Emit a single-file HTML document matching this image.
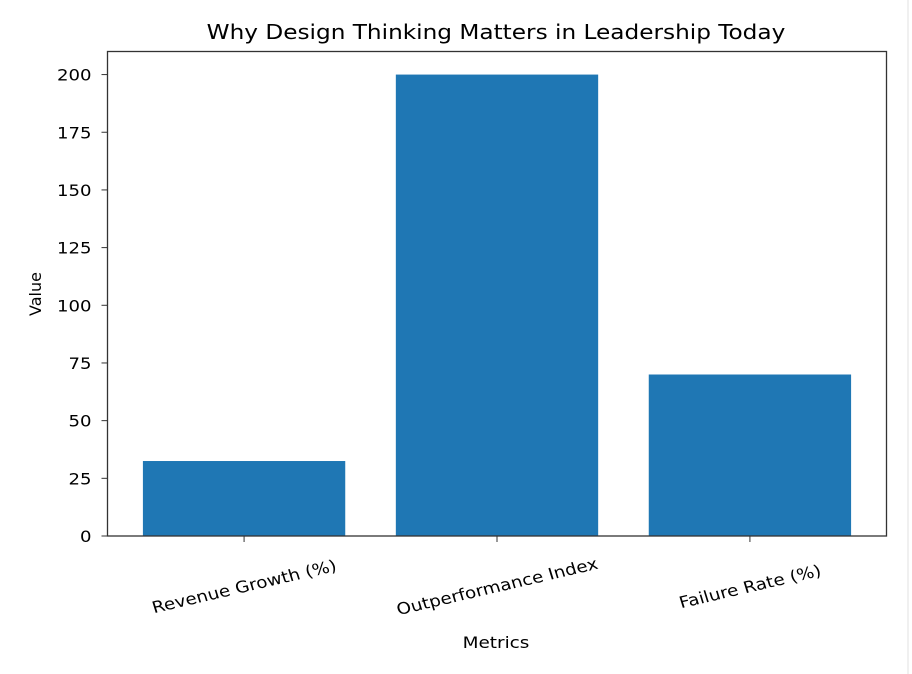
<!DOCTYPE html>
<html><head><meta charset="utf-8"><style>
html,body{margin:0;padding:0;background:#fff;}
svg{display:block;font-family:"DejaVu Sans","Liberation Sans",sans-serif;}
</style></head><body>
<svg id="chart" width="912" height="674" viewBox="0 0 912 674">
<rect x="907" y="0" width="2" height="674" fill="#f0f0f0"/>
<text transform="translate(496,39) scale(1.16,1)" font-size="20" text-anchor="middle" fill="#000">Why Design Thinking Matters in Leadership Today</text>
<g id="bars"></g>
<g id="yticks"></g>
<g id="xticks"></g>
<rect x="107.5" y="51.5" width="779" height="484.5" fill="none" stroke="#333" stroke-width="1.3"/>
<text transform="translate(41,294) rotate(-90)" font-size="16" text-anchor="middle">Value</text>
<text transform="translate(496,648) scale(1.15,1)" font-size="16" text-anchor="middle">Metrics</text>
</svg>
<script>
const categories = ["Revenue Growth (%)", "Outperformance Index", "Failure Rate (%)"];
const values = [32.5, 200, 70];
const yTicks = [0, 25, 50, 75, 100, 125, 150, 175, 200];

const NS = "http://www.w3.org/2000/svg";
const pLeft = 107.5, pRight = 886.5, pBottom = 536, pTop = 51.5;
const yMax = 210;
const yScale = v => pBottom - v / yMax * (pBottom - pTop);
const band = (pRight - pLeft) / 3.08;
const xScale = i => pLeft + band * (0.54 + i);
const barW = band * 0.8;

const gb = document.getElementById('bars');
values.forEach((v, i) => {
  const r = document.createElementNS(NS, 'rect');
  r.setAttribute('x', xScale(i) - barW / 2);
  r.setAttribute('y', yScale(v));
  r.setAttribute('width', barW);
  r.setAttribute('height', pBottom - yScale(v));
  r.setAttribute('fill', '#1f77b4');
  
  
  gb.appendChild(r);
});

const gy = document.getElementById('yticks');
yTicks.forEach(t => {
  const l = document.createElementNS(NS, 'line');
  l.setAttribute('x1', pLeft - 6); l.setAttribute('x2', pLeft);
  l.setAttribute('y1', yScale(t)); l.setAttribute('y2', yScale(t));
  l.setAttribute('stroke', '#333');
  
  
  gy.appendChild(l);
  const tx = document.createElementNS(NS, 'text');
  tx.setAttribute('transform', 'translate(' + (pLeft - 16) + ',' + (yScale(t) + 6) + ') scale(1.13,1)');
  tx.setAttribute('font-size', '16'); tx.setAttribute('text-anchor', 'end');
  tx.textContent = t;
  
  
  gy.appendChild(tx);
});

const gx = document.getElementById('xticks');
categories.forEach((c, i) => {
  const l = document.createElementNS(NS, 'line');
  l.setAttribute('x1', xScale(i)); l.setAttribute('x2', xScale(i));
  l.setAttribute('y1', pBottom); l.setAttribute('y2', pBottom + 6);
  l.setAttribute('stroke', '#333');
  
  
  gx.appendChild(l);
  const tx = document.createElementNS(NS, 'text');
  tx.setAttribute('font-size', '16'); tx.setAttribute('text-anchor', 'middle');
  tx.setAttribute('y', '6');
  tx.setAttribute('transform', 'translate(' + xScale(i) + ',' + (pBottom + 50) + ') scale(1.15,1) rotate(-15)');
  tx.textContent = c;
  
  
  gx.appendChild(tx);
});
</script>
</body></html>
